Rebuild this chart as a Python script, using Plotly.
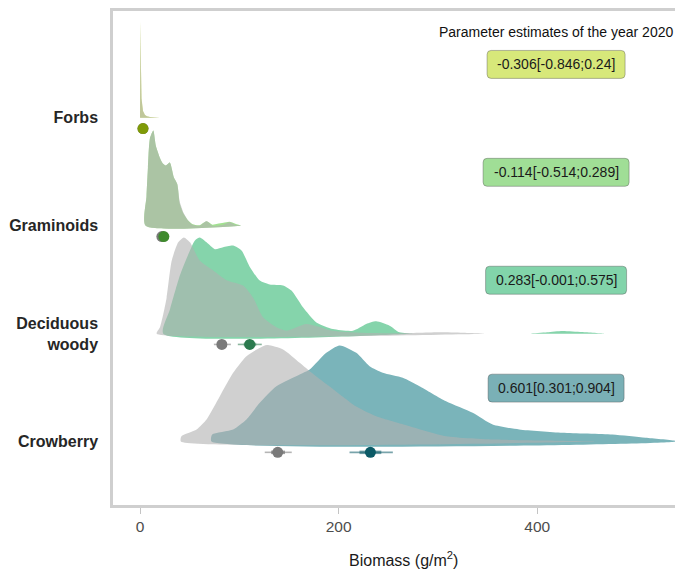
import plotly.graph_objects as go

# ---------------- data ----------------
categories = ["Crowberry", "Deciduous<br>woody", "Graminoids", "Forbs"]
cat_pos = [1, 2, 3, 4]

# density curves (biomass g/m2 -> relative density height, peak ~1)
forbs_x = [0.0, 0.5, 1.0, 1.5, 2.0, 3.0, 5.0, 7.0, 10.0, 14.0, 20.0]
forbs_h = [0.0, 1.0, 0.5, 0.2, 0.12, 0.07, 0.03, 0.015, 0.008, 0.003, 0.0]
forbs_grey_x = [0.0, 0.5, 1.0, 1.5, 2.0, 3.0, 5.0, 7.0, 10.0, 14.0, 20.0]
forbs_grey_h = [0.0, 0.98, 0.5, 0.2, 0.12, 0.07, 0.03, 0.015, 0.008, 0.003, 0.0]

gram_x = [5.7, 6.5, 8, 10, 13.4, 16, 20, 23, 26, 30, 34, 37.5, 40, 44, 48, 53, 60, 67, 73, 78, 84, 90, 96, 102]
gram_h = [0.0, 0.3, 0.6, 0.9, 0.98, 0.82, 0.70, 0.64, 0.62, 0.65, 0.5, 0.43, 0.23, 0.12, 0.06, 0.015, 0.005, 0.045, 0.01, 0.02, 0.03, 0.04, 0.02, 0.0]
gram_grey_x = [5.7, 6.5, 8, 10, 13.4, 16, 20, 23, 26, 30, 34, 37.5, 40, 44, 48, 53, 60, 67, 73, 78, 84, 90, 96, 102]
gram_grey_h = [0.0, 0.3, 0.6, 0.9, 0.98, 0.82, 0.70, 0.64, 0.62, 0.65, 0.5, 0.43, 0.25, 0.13, 0.06, 0.01, 0.0, 0.05, 0.0, 0.0, 0.01, 0.035, 0.01, 0.0]

dec_x = [23.4, 30.2, 40.2, 50.3, 55.3, 60.3, 67, 75.4, 83.7, 93.8, 102.2, 110.6, 120.6, 130.7, 144, 152.5, 164.1, 177.6, 194.3, 214.4, 227.8, 237.9, 251.3, 261.3, 274.4]
dec_h = [0.0, 0.25, 0.6, 0.856, 0.96, 0.99, 0.94, 0.87, 0.89, 0.907, 0.856, 0.687, 0.546, 0.505, 0.495, 0.443, 0.271, 0.116, 0.048, 0.03, 0.1, 0.127, 0.082, 0.014, 0.0]
dec_tail_x = [393.7, 410, 425.4, 445, 467.3]
dec_tail_h = [0.0, 0.014, 0.027, 0.016, 0.0]
dec_grey_x = [16.8, 20.1, 23.4, 26.8, 31.9, 38.5, 44.2, 50.3, 60.3, 73.7, 87.1, 103.8, 113.9, 123.9, 137.4, 147.4, 167.5, 194, 221, 261, 301.5, 325, 348.7]
dec_grey_h = [0.0, 0.065, 0.2, 0.37, 0.75, 0.94, 0.99, 0.94, 0.75, 0.65, 0.55, 0.495, 0.37, 0.168, 0.065, 0.03, 0.1, 0.03, 0.01, 0.005, 0.015, 0.01, 0.0]

crow_x = [71.9, 72.7, 93.8, 107.2, 120.6, 137.4, 160.8, 170.9, 187.6, 201, 217.8, 231.2, 244.5, 264.6, 281.4, 308.2, 335, 355.1, 381.9, 425.4, 475.6, 509.2, 539.4]
crow_h = [0.0, 0.072, 0.124, 0.227, 0.399, 0.57, 0.691, 0.742, 0.914, 0.99, 0.914, 0.776, 0.708, 0.656, 0.57, 0.415, 0.296, 0.175, 0.124, 0.09, 0.072, 0.038, 0.005]
crow_grey_x = [41.2, 41.7, 57, 67, 80.4, 93.8, 107.2, 123.9, 128.9, 144, 160.8, 170.9, 191, 217.8, 237.9, 271.4, 308.2, 358.5, 408.7, 462.3]
crow_grey_h = [0.0, 0.055, 0.124, 0.227, 0.467, 0.708, 0.879, 0.982, 0.993, 0.948, 0.811, 0.725, 0.567, 0.36, 0.26, 0.158, 0.055, 0.02, 0.01, 0.0]

# point estimates with intervals: [grey (reference), coloured (2020)]
est_grey = [138.7, 82.4, 22.0, 3.0]
est_grey_lo = [125.6, 74.4, 18.0, 1.0]
est_grey_hi = [152.8, 91.5, 26.0, 5.0]
est_grey_lo50 = [132.0, 78.5, 20.0, 2.0]
est_grey_hi50 = [146.0, 87.0, 24.0, 4.0]

est_col = [232.0, 110.5, 24.0, 3.0]
est_col_lo = [211.0, 98.5, 20.0, 1.0]
est_col_hi = [254.6, 122.6, 28.0, 5.0]
est_col_lo50 = [221.0, 104.5, 22.0, 2.0]
est_col_hi50 = [243.0, 117.0, 26.0, 4.0]

param_labels = ["0.601[0.301;0.904]", "0.283[-0.001;0.575]", "-0.114[-0.514;0.289]", "-0.306[-0.846;0.24]"]
param_title = "Parameter estimates of the year 2020"
x_title = "Biomass (g/m<sup>2</sup>)"
x_ticks = [0, 200, 400]

# ---------------- styles ----------------
fill_cols = ["#7ab4ba", "#85d4ab", "#a2e191", "#d7e87a"]
dot_cols = ["#0b5a66", "#2b7a4e", "#3f8a2d", "#7f9a08"]
bar_cols = ["rgba(11,90,102,0.55)", "rgba(43,122,78,0.55)", "rgba(63,138,45,0.55)", "rgba(127,154,8,0.55)"]
box_cols = ["#7ab0b6", "#82d4aa", "#a0de96", "#d7e87a"]
box_w_px = [136, 141, 146, 138]
BOX_H_PX = 28
BOX_R_PX = 4
PX_X = 0.993   # px per x unit
PX_Y = 108.0   # px per y unit
grey_fill = "rgba(176,176,176,0.6)"
SCALE = 0.9
DOT_OFF = 0.10
BOX_CX = 419
FONT = "Arial, Liberation Sans, sans-serif"

dens = [
    ([(crow_x, crow_h)], [(crow_grey_x, crow_grey_h)], "spline"),
    ([(dec_x, dec_h), (dec_tail_x, dec_tail_h)], [(dec_grey_x, dec_grey_h)], "spline"),
    ([(gram_x, gram_h)], [(gram_grey_x, gram_grey_h)], "spline"),
    ([(forbs_x, forbs_h)], [(forbs_grey_x, forbs_grey_h)], "linear"),
]

fig = go.Figure()

for i, (col_segs, grey_segs, shape) in enumerate(dens):
    base = cat_pos[i]
    for segs, col in [(col_segs, fill_cols[i]), (grey_segs, grey_fill)]:
        for xs, hs in segs:
            xx = list(xs) + [xs[-1], xs[0]]
            yy = [base + SCALE * h for h in hs] + [base, base]
            fig.add_trace(go.Scatter(
                x=xx, y=yy, mode="lines", fill="toself", fillcolor=col,
                line=dict(width=0, color=col, shape=shape, smoothing=0.6),
                hoverinfo="skip", showlegend=False))

for i in range(4):
    yb = cat_pos[i] - DOT_OFF
    # grey reference
    fig.add_trace(go.Scatter(x=[est_grey_lo[i], est_grey_hi[i]], y=[yb, yb], mode="lines",
                             line=dict(color="rgba(120,120,120,0.55)", width=1.6),
                             hoverinfo="skip", showlegend=False))
    fig.add_trace(go.Scatter(x=[est_grey_lo50[i], est_grey_hi50[i]], y=[yb, yb], mode="lines",
                             line=dict(color="rgba(120,120,120,0.7)", width=3.5),
                             hoverinfo="skip", showlegend=False))
    fig.add_trace(go.Scatter(x=[est_grey[i]], y=[yb], mode="markers",
                             marker=dict(color="#7a7a7a", size=11, line=dict(width=0)),
                             hoverinfo="skip", showlegend=False))
    # coloured 2020
    fig.add_trace(go.Scatter(x=[est_col_lo[i], est_col_hi[i]], y=[yb, yb], mode="lines",
                             line=dict(color=bar_cols[i], width=1.6),
                             hoverinfo="skip", showlegend=False))
    fig.add_trace(go.Scatter(x=[est_col_lo50[i], est_col_hi50[i]], y=[yb, yb], mode="lines",
                             line=dict(color=bar_cols[i], width=3.5),
                             hoverinfo="skip", showlegend=False))
    fig.add_trace(go.Scatter(x=[est_col[i]], y=[yb], mode="markers",
                             marker=dict(color=dot_cols[i], size=11, line=dict(width=0)),
                             hoverinfo="skip", showlegend=False))


def rounded_box(cx, cy, w_px, h_px, r_px):
    hw, hh = w_px / 2 / PX_X, h_px / 2 / PX_Y
    rx, ry = r_px / PX_X, r_px / PX_Y
    x0, x1, y0, y1 = cx - hw, cx + hw, cy - hh, cy + hh
    return (f"M {x0+rx},{y0} L {x1-rx},{y0} Q {x1},{y0} {x1},{y0+ry} "
            f"L {x1},{y1-ry} Q {x1},{y1} {x1-rx},{y1} L {x0+rx},{y1} "
            f"Q {x0},{y1} {x0},{y1-ry} L {x0},{y0+ry} Q {x0},{y0} {x0+rx},{y0} Z")


shapes = []
annotations = []
for i in range(4):
    cy = cat_pos[i] + 0.495
    shapes.append(dict(type="path", xref="x", yref="y",
                       path=rounded_box(BOX_CX, cy, box_w_px[i], BOX_H_PX, BOX_R_PX),
                       fillcolor=box_cols[i], line=dict(color="rgba(80,80,80,0.4)", width=1),
                       layer="above"))
    annotations.append(dict(
        x=BOX_CX, y=cy, xref="x", yref="y", text=param_labels[i],
        showarrow=False, font=dict(family=FONT, size=14, color="#1a1a1a")))
annotations.append(dict(x=BOX_CX, y=4.8, xref="x", yref="y", text=param_title, showarrow=False,
                        font=dict(family=FONT, size=14, color="#111111")))
annotations.append(dict(x=0.509, y=-0.11, xref="paper", yref="paper", text=x_title,
                        showarrow=False, yanchor="middle",
                        font=dict(family=FONT, size=16, color="#1a1a1a")))

# page body adds an 8px offset; figure sized to the visible area
fig.update_layout(
    width=675, height=563,
    margin=dict(l=105, r=0, t=3, b=65.5),
    paper_bgcolor="white", plot_bgcolor="white",
    showlegend=False,
    font=dict(family=FONT),
    shapes=shapes,
    annotations=annotations,
    xaxis=dict(range=[-27.2, 546.8], tickvals=x_ticks, ticktext=[str(t) for t in x_ticks],
               automargin=False,
               showgrid=False, zeroline=False, showline=True, linecolor="#cfcfcf", linewidth=2.5,
               mirror=True, ticks="outside", ticklen=6, tickcolor="#c4c4c4", tickwidth=1,
               tickfont=dict(family=FONT, size=15.5, color="#4d4d4d")),
    yaxis=dict(range=[0.412, 4.99], tickvals=cat_pos, ticktext=categories,
               automargin=False,
               showgrid=False, zeroline=False, showline=True, linecolor="#cfcfcf", linewidth=2.5,
               ticks="", ticklabelstandoff=9,
               tickfont=dict(family=FONT, size=16, color="#262626", weight="bold")),
)

fig.write_html("out.html")
